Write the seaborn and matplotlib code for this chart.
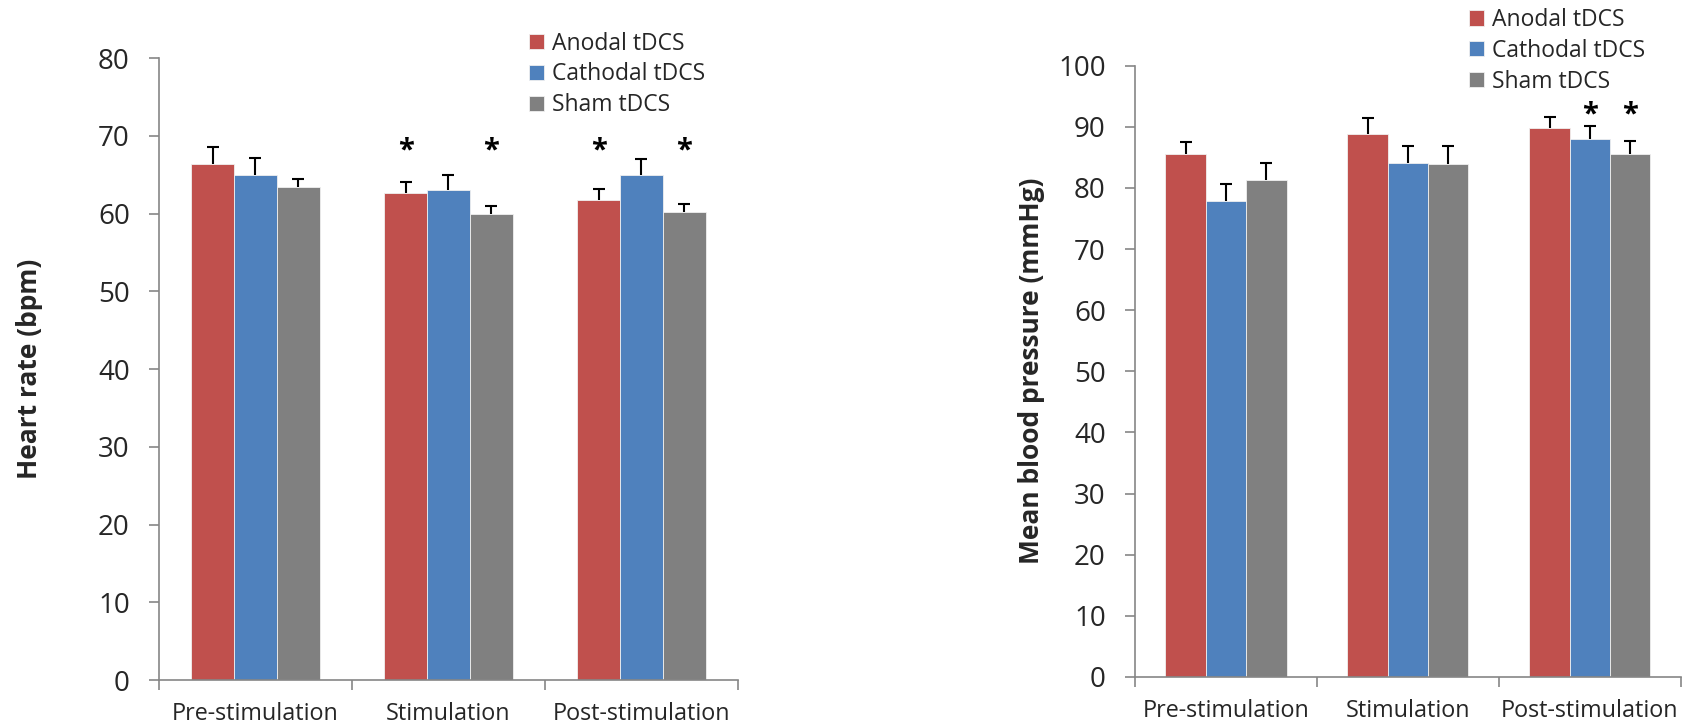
import matplotlib
matplotlib.use("Agg")
import matplotlib.pyplot as plt
import seaborn as sns
import pandas as pd
import numpy as np

phases = ["Pre-stimulation", "Stimulation", "Post-stimulation"]
groups = ["Anodal tDCS", "Cathodal tDCS", "Sham tDCS"]

# heart rate (bpm): mean and upper error per group, in phase order
hr_anodal = [66.4, 62.6, 61.7]
hr_cathodal = [65.0, 63.0, 65.0]
hr_sham = [63.4, 60.0, 60.2]
hr_err_anodal = [2.2, 1.5, 1.5]
hr_err_cathodal = [2.2, 2.0, 2.0]
hr_err_sham = [1.0, 1.0, 1.0]

# mean blood pressure (mmHg)
bp_anodal = [85.6, 88.8, 89.8]
bp_cathodal = [77.9, 84.0, 88.0]
bp_sham = [81.3, 83.9, 85.5]
bp_err_anodal = [1.9, 2.6, 1.8]
bp_err_cathodal = [2.7, 2.9, 2.1]
bp_err_sham = [2.7, 3.0, 2.2]

# significance markers: (phase index, group index)
hr_stars = [(1, 0), (1, 2), (2, 0), (2, 2)]
bp_stars = [(2, 1), (2, 2)]
hr_star_level = 68.0
bp_star_level = 92.0

hr_ticks = [0, 10, 20, 30, 40, 50, 60, 70, 80]
bp_ticks = [0, 10, 20, 30, 40, 50, 60, 70, 80, 90, 100]

palette = ["#C0504D", "#4F81BD", "#808080"]
axis_grey = "#868686"

sns.set_theme(style="white")
plt.rcParams["font.family"] = ["Open Sans", "DejaVu Sans"]


def make_frame(a, c, s):
    return pd.DataFrame({
        "phase": phases * 3,
        "group": [groups[0]] * 3 + [groups[1]] * 3 + [groups[2]] * 3,
        "value": list(a) + list(c) + list(s),
    })


def draw_panel(ax, df, errs, ticks, ylabel, label_x, stars, star_level,
               legend_xy):
    sns.barplot(data=df, x="phase", y="value", hue="group", order=phases,
                hue_order=groups, palette=palette, width=0.665,
                errorbar=None, legend=False, ax=ax, linewidth=0.6,
                edgecolor="#f0f0f0", saturation=1)
    # upper-only error bars with a single cap
    for cont, err in zip(ax.containers, errs):
        xs = [p.get_x() + p.get_width() / 2 for p in cont.patches]
        hs = [p.get_height() for p in cont.patches]
        eb = ax.errorbar(xs, hs, yerr=[np.zeros(len(err)), err], fmt="none",
                         ecolor="black", elinewidth=1.5, capsize=4,
                         capthick=1.5, zorder=3)
        eb[1][0].set_visible(False)
    for pi, gi in stars:
        p = ax.containers[gi].patches[pi]
        ax.text(p.get_x() + p.get_width() / 2, star_level, "*",
                ha="center", va="center", fontsize=21, fontweight="bold",
                color="black")
    ax.set_xlim(-0.5, 2.5)
    ax.set_ylim(ticks[0], ticks[-1])
    ax.set_yticks(ticks)
    ax.set_yticklabels([str(t) for t in ticks], fontsize=20)
    ax.set_xticks(range(3))
    ax.set_xticklabels(phases, fontsize=16.8)
    ax.set_xticks([-0.5, 0.5, 1.5, 2.5], minor=True)
    ax.tick_params(axis="x", which="major", length=0, pad=16)
    ax.tick_params(axis="x", which="minor", length=7, width=1.2,
                   color=axis_grey, direction="out", bottom=True)
    ax.tick_params(axis="y", length=7, width=1.2, color=axis_grey,
                   direction="out", left=True, pad=14)
    ax.set_xlabel("")
    ax.set_ylabel(ylabel, fontsize=19, fontweight="bold")
    ax.yaxis.set_label_coords(label_x, 0.5)
    ax.yaxis.label.set_verticalalignment("center")
    for side in ("top", "right"):
        ax.spines[side].set_visible(False)
    for side in ("left", "bottom"):
        ax.spines[side].set_color(axis_grey)
        ax.spines[side].set_linewidth(1.2)
    ax.legend(ax.containers, groups, loc="upper left",
              bbox_to_anchor=legend_xy, bbox_transform=ax.figure.transFigure,
              frameon=False, fontsize=16.5, handlelength=0.65,
              handleheight=0.65, handletextpad=0.35, labelspacing=0.3,
              borderpad=0, borderaxespad=0)


fig = plt.figure(figsize=(16.86, 7.28), dpi=100)
ax1 = fig.add_axes([0.0943, 0.0659, 0.3434, 0.8544])
ax2 = fig.add_axes([0.6732, 0.0701, 0.3238, 0.8398])

draw_panel(ax1, make_frame(hr_anodal, hr_cathodal, hr_sham),
           [hr_err_anodal, hr_err_cathodal, hr_err_sham], hr_ticks,
           "Heart rate (bpm)", -0.223, hr_stars, hr_star_level,
           (529 / 1686, 1 - 31.5 / 728))
draw_panel(ax2, make_frame(bp_anodal, bp_cathodal, bp_sham),
           [bp_err_anodal, bp_err_cathodal, bp_err_sham], bp_ticks,
           "Mean blood pressure (mmHg)", -0.19, bp_stars, bp_star_level,
           (1469 / 1686, 1 - 8 / 728))

fig.savefig("out.png", dpi=100)
